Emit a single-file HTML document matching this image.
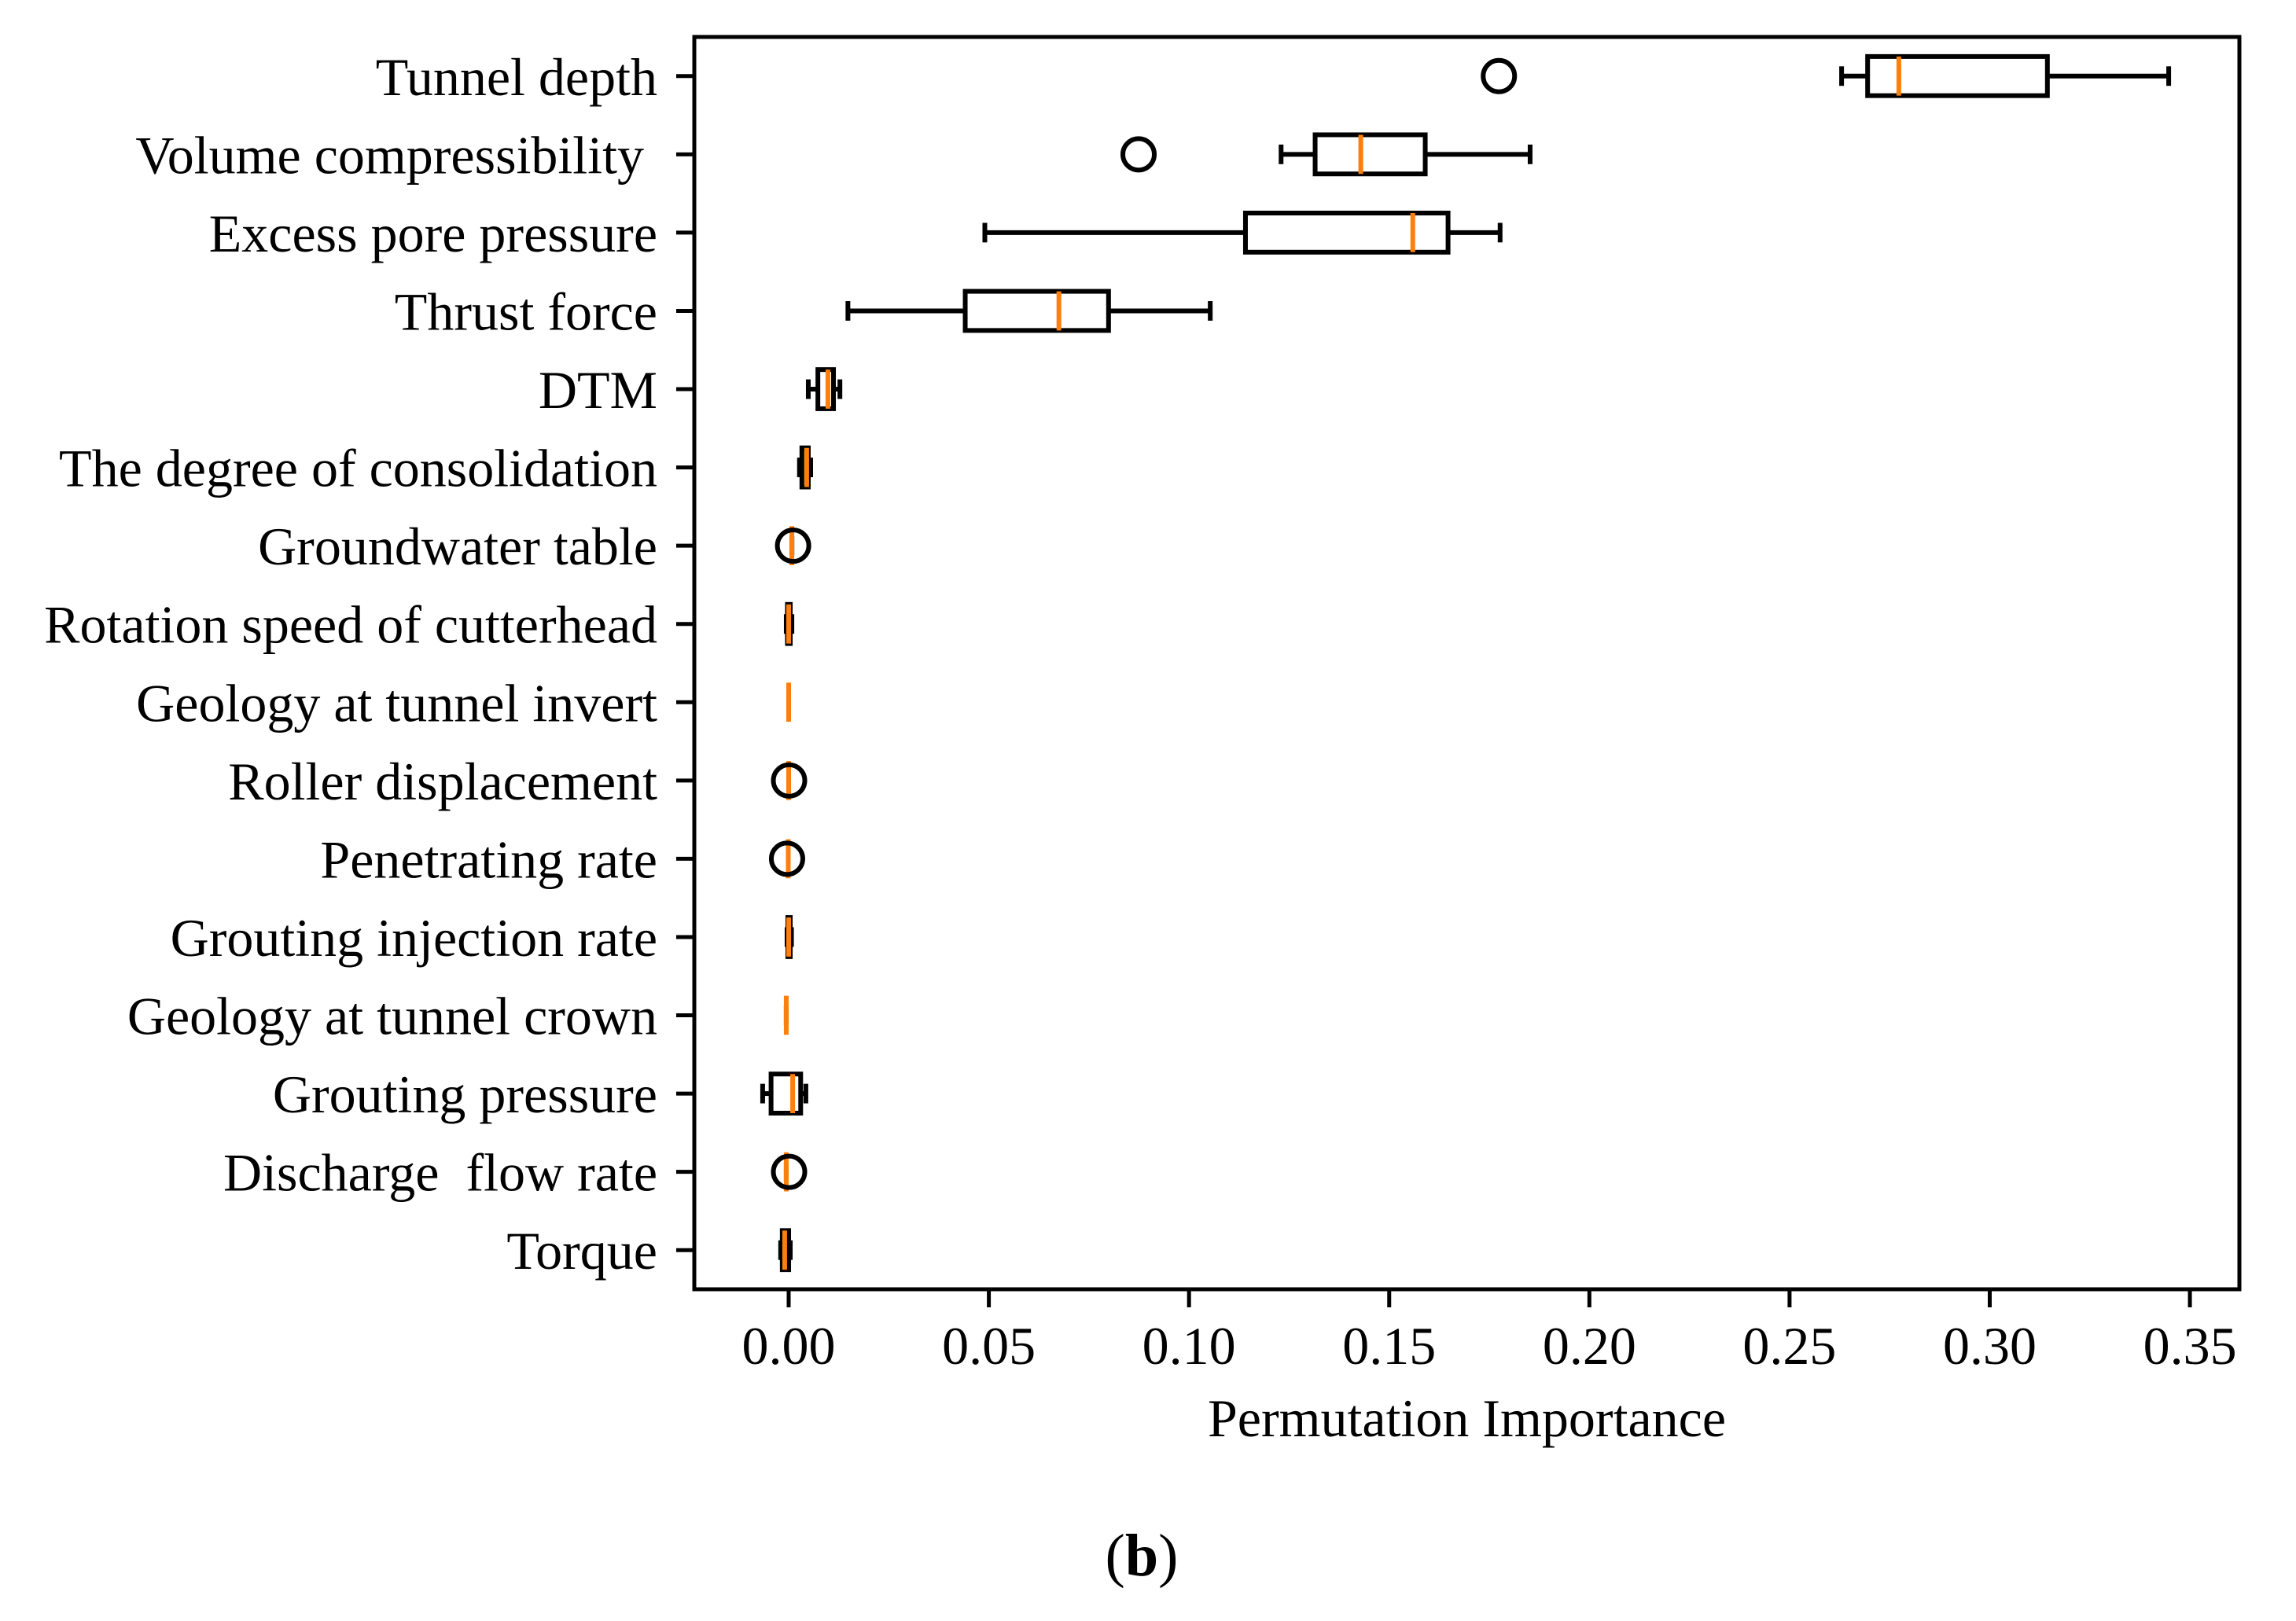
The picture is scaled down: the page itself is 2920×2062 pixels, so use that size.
<!DOCTYPE html>
<html><head><meta charset="utf-8"><style>
html,body{margin:0;padding:0;background:#fff;}
svg{display:block;}
text{font-family:"Liberation Serif","Times New Roman",serif;fill:#000;white-space:pre;}
</style></head><body>
<svg id="chart" width="2920" height="2062" viewBox="0 0 2920 2062" xmlns="http://www.w3.org/2000/svg" xml:space="preserve">
<rect x="0" y="0" width="2920" height="2062" fill="#fff"/>
<g id="marks"></g>
<g id="axes"></g>
</svg>
<script>
const features = ["Tunnel depth","Volume compressibility ","Excess pore pressure","Thrust force","DTM","The degree of consolidation","Groundwater table","Rotation speed of cutterhead","Geology at tunnel invert","Roller displacement","Penetrating rate","Grouting injection rate","Geology at tunnel crown","Grouting pressure","Discharge  flow rate","Torque"];
const whiskerLow = [0.2630,0.1230,0.0490,0.0148,0.0049,0.0027,0.0008,-0.0006,0.0000,0.0000,-0.0001,-0.0004,-0.0006,-0.0065,-0.0006,-0.0020];
const q1 = [0.2695,0.1315,0.1141,0.0441,0.0073,0.0033,0.0008,-0.0003,0.0000,0.0000,-0.0001,-0.0002,-0.0006,-0.0044,-0.0006,-0.0016];
const medians = [0.2773,0.1429,0.1559,0.0675,0.0098,0.0045,0.0008,0.0000,0.0000,0.0000,-0.0001,0.0000,-0.0006,0.0010,-0.0006,-0.0010];
const q3 = [0.3144,0.1590,0.1647,0.0799,0.0112,0.0049,0.0008,0.0004,0.0000,0.0000,-0.0001,0.0004,-0.0006,0.0030,-0.0006,0.0000];
const whiskerHigh = [0.3447,0.1852,0.1777,0.1053,0.0128,0.0055,0.0008,0.0008,0.0000,0.0000,-0.0001,0.0007,-0.0006,0.0043,-0.0006,0.0004];
const outliers = [[0.1774],[0.0874],[],[],[],[],[0.0011],[],[],[0.0001],[-0.0004],[],[],[],[0.0001],[]];
const xTicks = [0.00,0.05,0.10,0.15,0.20,0.25,0.30,0.35];
const xTickLabels = ["0.00","0.05","0.10","0.15","0.20","0.25","0.30","0.35"];

const NS="http://www.w3.org/2000/svg";
const L=883,R=2848,T=47,B=1640;
const xMin=-0.02357,xMax=0.36236;
function xs(v){return L+(v-xMin)/(xMax-xMin)*(R-L);}
function ys(i){return T+(i+0.5)*(B-T)/features.length;}
const unit=(B-T)/features.length;
function mk(tag,attrs,parent){const e=document.createElementNS(NS,tag);for(const k in attrs)e.setAttribute(k,attrs[k]);parent.appendChild(e);return e;}
const marks=document.getElementById('marks');
const axes=document.getElementById('axes');
const LW=6;
features.forEach((f,i)=>{
  const y=ys(i);
  const g=mk('g',{},marks);
  
  
  const hb=unit*0.25, hc=unit*0.125;
  const wl=mk('line',{x1:xs(whiskerLow[i]),x2:xs(q1[i]),y1:y,y2:y,stroke:'#000','stroke-width':LW},g);
  
  
  const wh=mk('line',{x1:xs(q3[i]),x2:xs(whiskerHigh[i]),y1:y,y2:y,stroke:'#000','stroke-width':LW},g);
  
  
  const c1=mk('line',{x1:xs(whiskerLow[i]),x2:xs(whiskerLow[i]),y1:y-hc,y2:y+hc,stroke:'#000','stroke-width':LW},g);
  
  
  const c2=mk('line',{x1:xs(whiskerHigh[i]),x2:xs(whiskerHigh[i]),y1:y-hc,y2:y+hc,stroke:'#000','stroke-width':LW},g);
  
  
  const bx=mk('rect',{x:xs(q1[i]),y:y-hb,width:Math.max(0,xs(q3[i])-xs(q1[i])),height:2*hb,fill:'none',stroke:'#000','stroke-width':LW},g);
  
  
  const md=mk('line',{x1:xs(medians[i]),x2:xs(medians[i]),y1:y-hb,y2:y+hb,stroke:'#ff7f0e','stroke-width':LW},g);
  
  
  outliers[i].forEach(o=>{
    const c=mk('circle',{cx:xs(o),cy:y,r:20,fill:'none',stroke:'#000','stroke-width':6},g);
    
    
  });
  const tk=mk('line',{x1:L-23,x2:L,y1:y,y2:y,stroke:'#000','stroke-width':5},axes);
  
  
  const t=mk('text',{x:L-47,y:y+24,'font-size':68,'text-anchor':'end'},axes);
  t.textContent=f;
  
  
});
xTicks.forEach((v,k)=>{
  const tk=mk('line',{x1:xs(v),x2:xs(v),y1:B,y2:B+23,stroke:'#000','stroke-width':5},axes);
  
  
  const t=mk('text',{x:xs(v),y:1735,'font-size':68,'text-anchor':'middle'},axes);
  t.textContent=xTickLabels[k];
  
  
});
const fr=mk('rect',{x:L,y:T,width:R-L,height:B-T,fill:'none',stroke:'#000','stroke-width':5},axes);


const xl=mk('text',{x:(L+R)/2,y:1827,'font-size':68,'text-anchor':'middle'},axes);
xl.textContent='Permutation Importance';


const cap=mk('text',{x:1452,y:2004,'font-size':76,'text-anchor':'middle'},axes);
cap.innerHTML='(<tspan font-weight="bold">b</tspan>)';


</script>
</body></html>
